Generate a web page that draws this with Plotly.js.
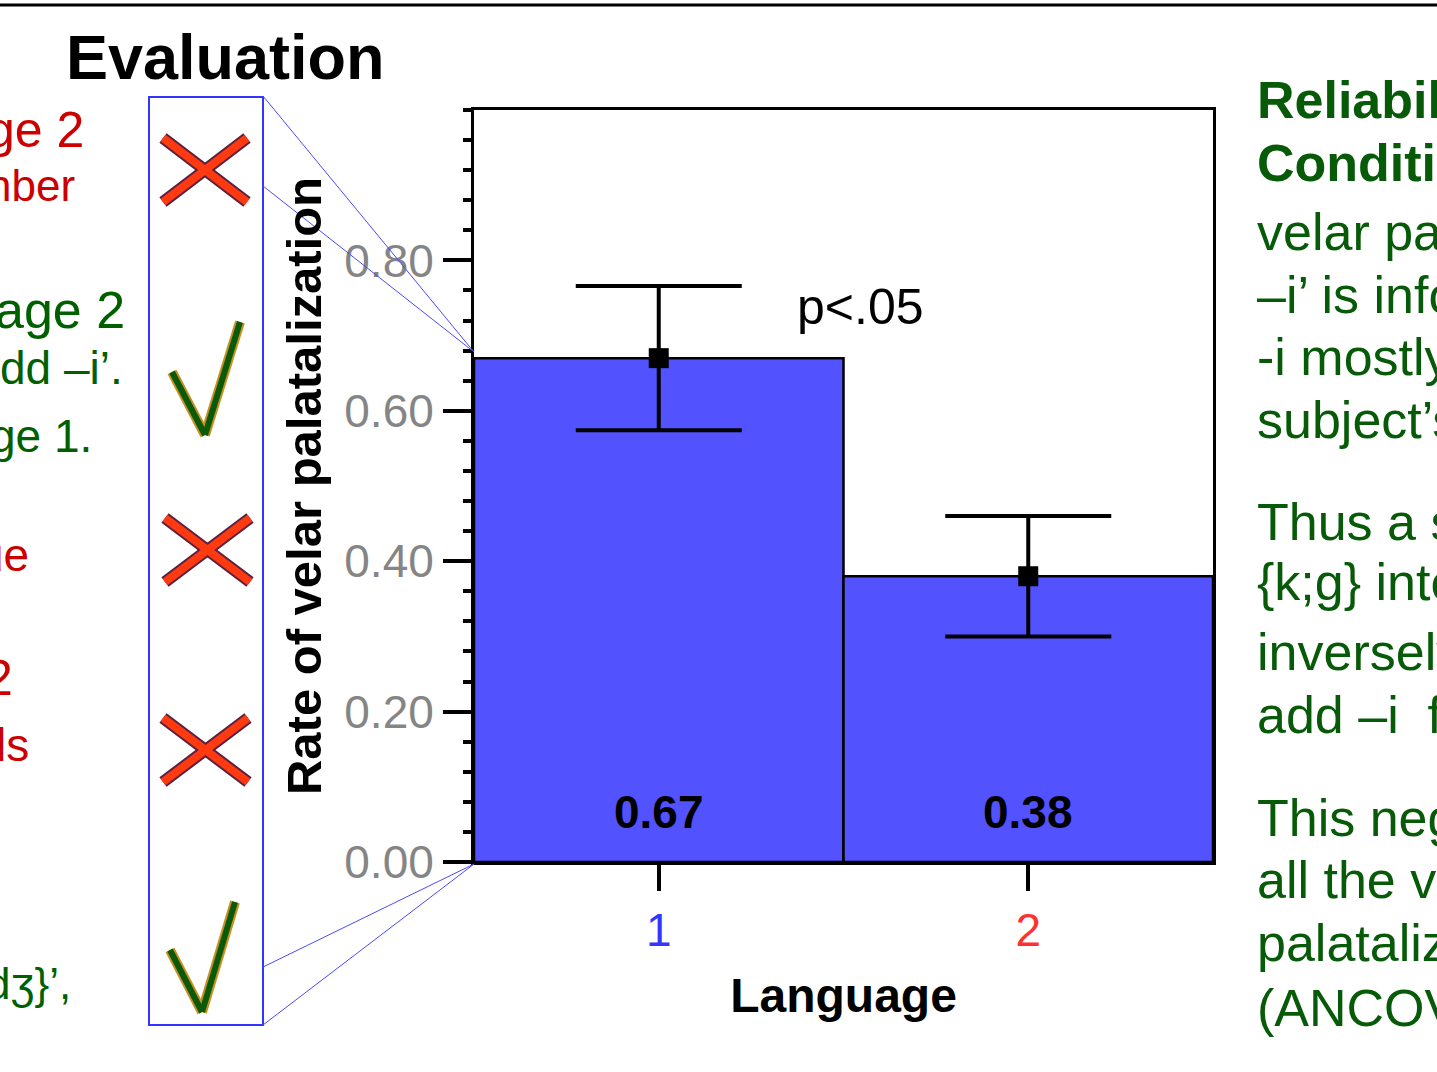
<!DOCTYPE html>
<html>
<head>
<meta charset="utf-8">
<script src="https://cdn.plot.ly/plotly-3.0.1.min.js"></script>
<style>html,body{margin:0;padding:0;background:#fff;overflow:hidden}</style>
</head>
<body>
<div id="chart" style="width:1437px;height:1072px"></div>
<script>
// ---- data ----
const categories = [1, 2];
const tickLabels = ['<span style="color:#3535ff">1</span>', '<span style="color:#ff3030">2</span>'];
const means = [0.67, 0.38];
const errors = [0.096, 0.08];
const barLabels = ['0.67', '0.38'];
const yTickVals = [0, 0.2, 0.4, 0.6, 0.8];
const yTickText = ['0.00', '0.20', '0.40', '0.60', '0.80'];

// ---- slide text ----
const leftLines = [
  {t: 'ge 2', y: 130, x: 86, c: '#cc0000', s: 50},
  {t: 'nber', y: 185, x: 77, c: '#cc0000', s: 44},
  {t: 'age 2', y: 310, x: 127, c: '#006000', s: 52},
  {t: 'dd –i’.', y: 368, x: 125, c: '#006000', s: 46},
  {t: 'ge 1.', y: 436, x: 94, c: '#006000', s: 46},
  {t: 'ue', y: 555, x: 31, c: '#cc0000', s: 46},
  {t: '2', y: 678, x: 15, c: '#cc0000', s: 50},
  {t: 'ls', y: 745, x: 31, c: '#cc0000', s: 46},
  {t: 'dʒ}’,', y: 983, x: 73, c: '#006000', s: 44}
];
const rightLines = [
  {t: '<b>Reliability</b>', y: 100},
  {t: '<b>Conditions</b>', y: 163},
  {t: 'velar palatalization', y: 232},
  {t: '–i’ is info', y: 295},
  {t: '-i mostly', y: 357},
  {t: 'subject’s', y: 420},
  {t: 'Thus a s', y: 522},
  {t: '{k;g} inte', y: 582},
  {t: 'inversely', y: 652},
  {t: 'add –i\u00a0\u00a0fo', y: 715},
  {t: 'This nega', y: 818},
  {t: 'all the ve', y: 880},
  {t: 'palatalization', y: 943},
  {t: '(ANCOVA', y: 1008}
];

const L = 474, R = 1213, T = 110, B = 862;
const px = x => (x - L) / (R - L);
const py = y => (B - y) / (B - T);
const FONT = 'Liberation Sans, Arial, Helvetica, sans-serif';

const traces = [
  {
    type: 'bar', x: categories, y: means,
    marker: {color: 'rgb(82,82,255)', line: {color: '#000', width: 2.5}},
    hoverinfo: 'skip', showlegend: false
  },
  {
    type: 'scatter', mode: 'markers', x: categories, y: means,
    marker: {symbol: 'square', size: 20, color: '#000'},
    error_y: {type: 'data', array: errors, visible: true, width: 83, thickness: 4, color: '#000'},
    hoverinfo: 'skip', showlegend: false
  }
];

const annotations = [];
categories.forEach((c, i) => annotations.push({
  xref: 'x', yref: 'y', x: c, y: 0, yshift: 50, text: '<b>' + barLabels[i] + '</b>',
  showarrow: false, font: {family: FONT, size: 46, color: '#000'}, xanchor: 'center', yanchor: 'middle'
}));
annotations.push({xref: 'paper', yref: 'paper', x: px(795), y: py(307), xanchor: 'left', yanchor: 'middle',
  text: 'p&lt;.05', showarrow: false, font: {family: FONT, size: 50, color: '#000'}});
annotations.push({xref: 'paper', yref: 'paper', x: px(64), y: py(57), xanchor: 'left', yanchor: 'middle',
  text: '<b>Evaluation</b>', showarrow: false, font: {family: FONT, size: 63, color: '#000'}});
leftLines.forEach(l => annotations.push({xref: 'paper', yref: 'paper', x: px(l.x), y: py(l.y),
  xanchor: 'right', yanchor: 'middle', text: l.t, showarrow: false, font: {family: FONT, size: l.s, color: l.c}}));
rightLines.forEach(l => annotations.push({xref: 'paper', yref: 'paper', x: px(1255), y: py(l.y),
  xanchor: 'left', yanchor: 'middle', text: l.t, showarrow: false, font: {family: FONT, size: 52, color: '#075a07'}}));

const shapes = [];
const line = (x0, y0, x1, y1, color, width) => shapes.push({type: 'line', xref: 'paper', yref: 'paper',
  x0: px(x0), y0: py(y0), x1: px(x1), y1: py(y1), line: {color, width}});
// top rule
line(0, 5, 1437, 5, '#000', 3);
// blue frame and connectors
shapes.push({type: 'rect', xref: 'paper', yref: 'paper', x0: px(149), x1: px(263), y0: py(97), y1: py(1025),
  line: {color: '#3434ff', width: 2}});
line(263, 96, 474, 352, '#4a4aff', 1);
line(263, 186, 474, 352, '#4a4aff', 1);
line(263, 967, 474, 864, '#4a4aff', 1);
line(263, 1025, 474, 864, '#4a4aff', 1);
// red crosses
[[170, 163, 247], [550, 165, 250], [750, 163, 248]].forEach(([cy, x0, x1]) => {
  const h = 32;
  line(x0, cy - h, x1, cy + h, '#5a2040', 12);
  line(x0, cy + h, x1, cy - h, '#5a2040', 12);
  line(x0, cy - h, x1, cy + h, '#ff3a10', 8);
  line(x0, cy + h, x1, cy - h, '#ff3a10', 8);
});
// green checks
[[172, 372, 205, 435, 240, 322], [170, 950, 202, 1012, 235, 902]].forEach(([a, b, c, d, e, f]) => {
  line(a, b, c, d, '#c89020', 10);
  line(c, d, e, f, '#c89020', 10);
  line(a, b, c, d, '#0a5a0a', 6);
  line(c, d, e, f, '#0a5a0a', 6);
});

const layout = {
  width: 1437, height: 1072,
  margin: {l: L, r: 1437 - R, t: T, b: 1072 - B, pad: 0},
  paper_bgcolor: '#fff', plot_bgcolor: '#fff',
  bargap: 0, showlegend: false,
  font: {family: FONT},
  xaxis: {
    range: [0.5, 2.5], tickvals: categories, ticktext: tickLabels,
    showgrid: false, zeroline: false, showline: true, linecolor: '#000', linewidth: 3, mirror: true,
    ticks: 'outside', ticklen: 26, tickwidth: 4, tickcolor: '#000',
    tickfont: {family: FONT, size: 46, color: '#000'},
    title: {text: '<b>Language</b>', font: {family: FONT, size: 48, color: '#000'}, standoff: 24}
  },
  yaxis: {
    range: [0, 1.0], tickvals: yTickVals, ticktext: yTickText,
    showgrid: false, zeroline: false, showline: true, linecolor: '#000', linewidth: 3, mirror: true,
    ticks: 'outside', ticklen: 28, tickwidth: 4, tickcolor: '#000',
    minor: {dtick: 0.04, tick0: 0, ticks: 'outside', ticklen: 8, tickwidth: 4, tickcolor: '#000', showgrid: false},
    tickfont: {family: FONT, size: 46, color: '#858585'},
    title: {text: '<b>Rate of velar palatalization</b>', font: {family: FONT, size: 49, color: '#000'}, standoff: 8}
  },
  annotations, shapes
};

Plotly.newPlot('chart', traces, layout, {staticPlot: true, displayModeBar: false});
</script>
</body>
</html>
